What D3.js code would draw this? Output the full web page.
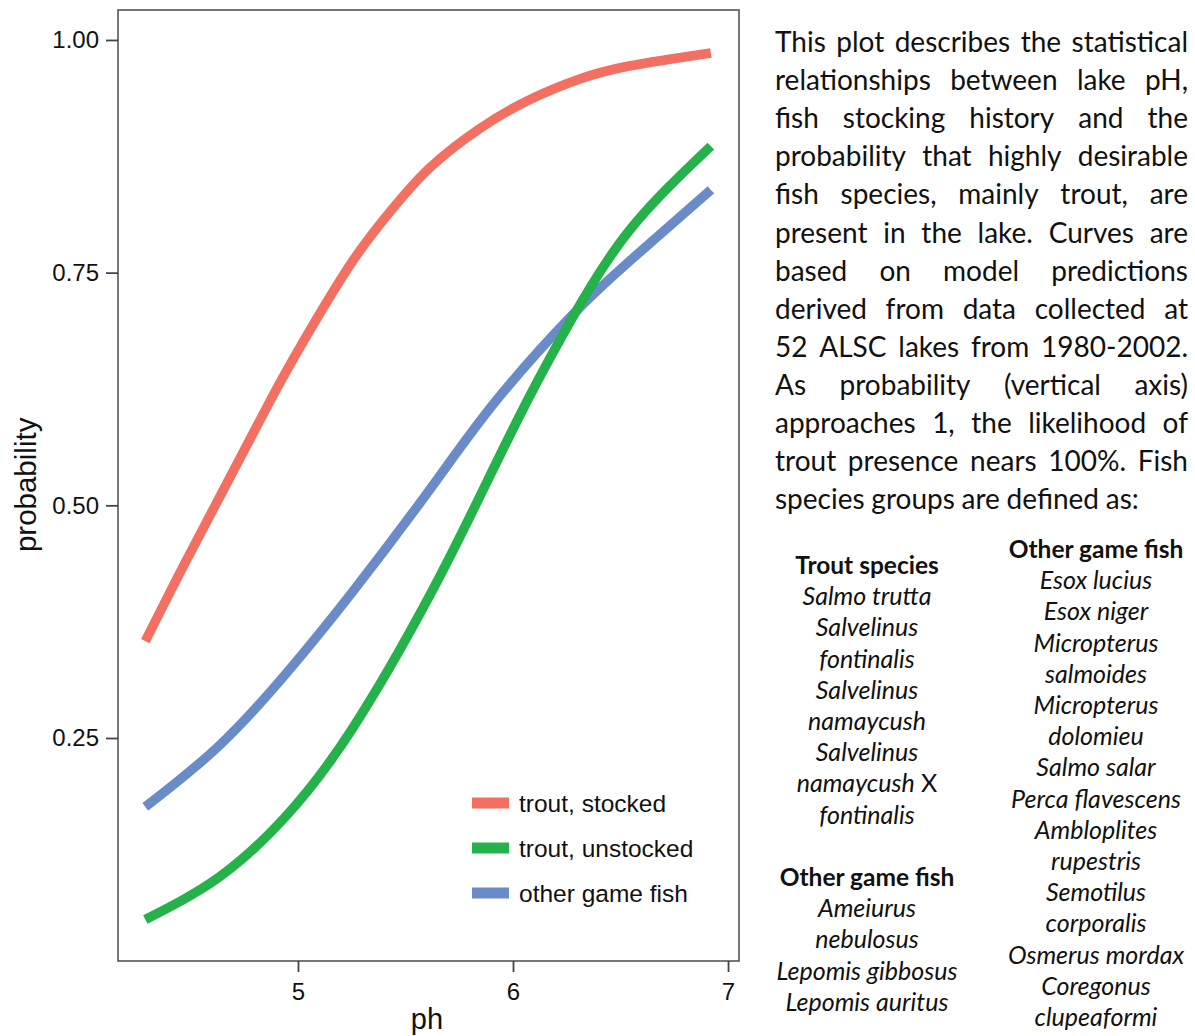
<!DOCTYPE html>
<html>
<head>
<meta charset="utf-8">
<script src="https://cdn.jsdelivr.net/npm/d3@7"></script>
<style>
body{margin:0;background:#fff;}
svg{display:block;}
</style>
</head>
<body>
<div id="chart"></div>
<script>
// values (pH, probability)
var phStocked   = [4.29, 4.47, 4.67, 4.87, 5.03, 5.25, 5.43, 5.61, 5.84, 6.07, 6.31, 6.54, 6.92];
var probStocked = [0.354, 0.436, 0.524, 0.612, 0.678, 0.761, 0.816, 0.862, 0.904, 0.935, 0.958, 0.972, 0.986];

var phUnstocked   = [4.29, 4.63, 4.94, 5.25, 5.61, 5.87, 6.07, 6.27, 6.54, 6.92];
var probUnstocked = [0.055, 0.100, 0.165, 0.259, 0.402, 0.521, 0.614, 0.699, 0.795, 0.886];

var phOther   = [4.29, 4.63, 4.94, 5.25, 5.61, 5.92, 6.27, 6.54, 6.92];
var probOther = [0.176, 0.241, 0.318, 0.406, 0.516, 0.612, 0.703, 0.762, 0.839];

var seriesNames  = ["trout, stocked", "trout, unstocked", "other game fish"];
var seriesColors = ["#F26F61", "#25B24B", "#6A8BC8"];

var xTicks = [5, 6, 7];
var yTicks = [0.25, 0.50, 0.75, 1.00];

var noteLines = [
  "This plot describes the statistical",
  "relationships between lake pH,",
  "fish stocking history and the",
  "probability that highly desirable",
  "fish species, mainly trout, are",
  "present in the lake. Curves are",
  "based on model predictions",
  "derived from data collected at",
  "52 ALSC lakes from 1980-2002.",
  "As probability (vertical axis)",
  "approaches 1, the likelihood of",
  "trout presence nears 100%. Fish",
  "species groups are defined as:"
];

var leftColumn = [
  "*Trout species", "Salmo trutta", "Salvelinus", "fontinalis", "Salvelinus", "namaycush",
  "Salvelinus", "namaycush X", "fontinalis", "",
  "*Other game fish", "Ameiurus", "nebulosus", "Lepomis gibbosus", "Lepomis auritus"
];
var rightColumn = [
  "*Other game fish", "Esox lucius", "Esox niger", "Micropterus", "salmoides", "Micropterus",
  "dolomieu", "Salmo salar", "Perca flavescens", "Ambloplites", "rupestris", "Semotilus",
  "corporalis", "Osmerus mordax", "Coregonus", "clupeaformi"
];

var W = 1195, H = 1036;
var plotFont = "'Liberation Sans', Arial, sans-serif";
var noteFont = "Lato, 'Open Sans', sans-serif";

var svg = d3.select("#chart").append("svg")
  .attr("width", W)
  .attr("height", H);

var panel = {left: 118, top: 10, right: 739, bottom: 961};

var x = d3.scaleLinear().domain([4.163, 7.051]).range([panel.left, panel.right]);
var y = d3.scaleLinear().domain([0.0104, 1.0322]).range([panel.bottom, panel.top]);

// panel box
svg.append("rect")
  .attr("x", panel.left)
  .attr("y", panel.top)
  .attr("width", panel.right - panel.left)
  .attr("height", panel.bottom - panel.top)
  .attr("fill", "none")
  .attr("stroke", "#555")
  .attr("stroke-width", 1.6);

// axes
var yAxis = d3.axisLeft(y).tickValues(yTicks).tickFormat(d3.format(".2f")).tickSize(12).tickPadding(7);
var xAxis = d3.axisBottom(x).tickValues(xTicks).tickFormat(d3.format("d")).tickSize(11).tickPadding(11);

var gy = svg.append("g").attr("transform", "translate(" + panel.left + ",0)").call(yAxis);
var gx = svg.append("g").attr("transform", "translate(0," + panel.bottom + ")").call(xAxis);

[gx, gy].forEach(function(g){
  g.select(".domain").remove();
  g.selectAll(".tick line").attr("stroke", "#444").attr("stroke-width", 1.8);
  g.selectAll(".tick text")
    .attr("fill", "#111")
    .style("font-family", plotFont)
    .style("font-size", "24px");
});

svg.append("text")
  .attr("x", x(5.6))
  .attr("y", 1029)
  .attr("text-anchor", "middle")
  .style("font-family", plotFont)
  .style("font-size", "29px")
  .attr("fill", "#111")
  .text("ph");

svg.append("text")
  .attr("transform", "translate(36," + y(0.5 + 0.022) + ") rotate(-90)")
  .attr("text-anchor", "middle")
  .style("font-family", plotFont)
  .style("font-size", "29.5px")
  .attr("fill", "#111")
  .text("probability");

// curves
var series = [
  {name: seriesNames[0], color: seriesColors[0], ph: phStocked, p: probStocked},
  {name: seriesNames[1], color: seriesColors[1], ph: phUnstocked, p: probUnstocked},
  {name: seriesNames[2], color: seriesColors[2], ph: phOther, p: probOther}
];

var line = d3.line()
  .x(function(d){ return x(d[0]); })
  .y(function(d){ return y(d[1]); })
  .curve(d3.curveNatural);

svg.append("g").selectAll("path")
  .data(series.slice().reverse())
  .enter()
  .append("path")
  .attr("d", function(s){ return line(d3.zip(s.ph, s.p)); })
  .attr("fill", "none")
  .attr("stroke", function(s){ return s.color; })
  .attr("stroke-width", 9.5)
  .attr("stroke-linecap", "butt");

// legend
var legend = svg.append("g").selectAll("g")
  .data(series)
  .enter()
  .append("g")
  .attr("transform", function(d, i){ return "translate(472," + (803 + i * 45) + ")"; });

legend.append("rect")
  .attr("x", 0).attr("y", -5.5)
  .attr("width", 37).attr("height", 11)
  .attr("fill", function(d){ return d.color; });

legend.append("text")
  .attr("x", 47)
  .attr("y", 0)
  .attr("dy", "0.36em")
  .style("font-family", plotFont)
  .style("font-size", "24.5px")
  .attr("fill", "#111")
  .text(function(d){ return d.name; });

// note paragraph, justified word by word
var noteSize = 28;
var note = svg.append("g")
  .style("font-family", noteFont)
  .style("font-size", noteSize + "px")
  .attr("fill", "#111");

var noteLeft = 775, noteWidth = 413, noteTop = 52, noteStep = 38.1;

noteLines.forEach(function(str, i){
  var words = str.split(" ");
  var yy = noteTop + i * noteStep;
  var nodes = words.map(function(w){
    return note.append("text").attr("y", yy).text(w);
  });
  var widths = nodes.map(function(n){ return n.node().getComputedTextLength(); });
  var total = d3.sum(widths);
  var gap = (i === noteLines.length - 1) ? noteSize * 0.24 : (noteWidth - total) / (words.length - 1);
  var cx = noteLeft;
  nodes.forEach(function(n, j){
    n.attr("x", cx);
    cx += widths[j] + gap;
  });
});

// species columns
function column(items, cx, y0){
  var g = svg.append("g")
    .style("font-family", noteFont)
    .style("font-size", "25px")
    .attr("fill", "#111")
    .attr("text-anchor", "middle");
  items.forEach(function(item, i){
    if (!item) return;
    var t = g.append("text").attr("x", cx).attr("y", y0 + i * 31.2);
    if (item.charAt(0) === "*") {
      t.style("font-weight", "bold").style("font-size", "24.5px").text(item.slice(1));
    } else if (/ X$/.test(item)) {
      t.append("tspan").style("font-style", "italic").text(item.replace(/ X$/, ""));
      t.append("tspan").text(" X");
    } else {
      t.style("font-style", "italic").text(item);
    }
  });
}

column(leftColumn, 867, 574);
column(rightColumn, 1096, 558);
</script>
</body>
</html>
